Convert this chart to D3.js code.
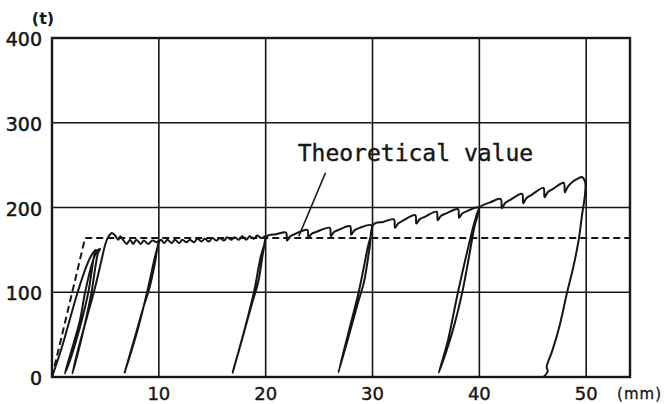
<!DOCTYPE html>
<html>
<head>
<meta charset="utf-8">
<script src="https://cdn.jsdelivr.net/npm/d3@7"></script>
<style>
  body { margin: 0; background: #fff; }
  svg { display: block; }
</style>
</head>
<body>
<svg id="chart"></svg>
<script>
// Axis ticks (mm / t).
var x_ticks = [10, 20, 30, 40, 50];
var y_ticks = [0, 100, 200, 300, 400];
var x_extent = [0, 54.1];
var y_extent = [0, 400];

// Theoretical value (dashed).
var theory_x = [0, 3.1, 54.1];
var theory_y = [0, 164, 164];

var measured = [
	// first loading and the two small early loops
	[0, 0], [0.8, 30], [1.6, 65], [2.4, 100], [3.2, 130], [3.8, 146], [4.1, 150],
	[4.0, 147], [3.4, 100], [2.6, 58], [1.8, 24], [1.2, 4],
	[1.8, 30], [2.6, 66], [3.1, 100], [3.8, 136], [4.3, 150], [4.5, 151],
	[4.3, 146], [3.7, 100], [3.0, 58], [2.4, 27], [1.9, 4],
	[2.5, 35], [3.3, 72], [4.0, 104], [4.6, 136], [5.0, 157], [5.3, 166], [5.6, 170],
	[5.9, 167], [6.2, 162], [6.4, 166], [6.7, 161], [7.0, 157], [7.3, 162], [7.6, 157],
	[7.9, 162], [8.3, 157], [8.6, 161], [9.0, 157], [9.4, 161], [9.8, 159], [10.0, 161],
	// loop at 10 mm
	[9.6, 140], [8.9, 100], [8.0, 55], [6.8, 5],
	[7.6, 40], [8.6, 84], [9.1, 104], [9.6, 132], [10.0, 159], [10.2, 162],
	[10.5, 158], [10.8, 162], [11.2, 158], [11.5, 162], [11.9, 158], [12.2, 162],
	[12.6, 159], [12.9, 162], [13.3, 159], [13.6, 163], [14.0, 160], [14.3, 163],
	[14.7, 160], [15.0, 164], [15.4, 161], [15.7, 164], [16.1, 161], [16.4, 165],
	[16.8, 162], [17.1, 165], [17.5, 162], [17.8, 166], [18.2, 162], [18.5, 166],
	[18.9, 163], [19.2, 167], [19.6, 164], [20.0, 166],
	// loop at 20 mm
	[19.5, 140], [18.9, 100], [18.0, 55], [16.9, 5],
	[17.8, 45], [18.7, 86], [19.3, 112], [19.8, 150], [20.1, 166],
	[21.0, 168.5], [21.9, 170.5], [22.0, 161], [22.3, 166], [22.8, 169],
	[23.9, 173.5], [24.0, 164], [24.3, 169], [24.8, 171.5],
	[26.0, 176], [26.1, 166], [26.4, 171], [26.9, 174],
	[27.9, 178], [28.0, 168], [28.3, 173], [28.8, 176], [29.9, 179],
	// loop at 30 mm
	[29.5, 150], [28.7, 100], [27.8, 55], [26.8, 5],
	[27.7, 45], [28.6, 86], [29.2, 112], [29.7, 150], [30.1, 180],
	[31.0, 183], [32.0, 186], [32.1, 176], [32.4, 181], [32.9, 185],
	[34.0, 191], [34.1, 181], [34.4, 186], [34.9, 189],
	[36.0, 195], [36.1, 185], [36.4, 190], [36.9, 193],
	[38.0, 198], [38.1, 188], [38.4, 193], [38.9, 196], [39.9, 200],
	// loop at 40 mm
	[39.5, 175], [38.4, 100], [37.4, 50], [36.2, 5],
	[37.0, 40], [38.0, 100], [38.9, 150], [39.6, 185], [40.1, 201],
	[41.0, 206], [42.0, 210], [42.1, 199], [42.4, 205], [42.9, 209],
	[44.0, 216], [44.1, 205], [44.4, 211], [44.9, 215],
	[46.0, 223], [46.1, 212], [46.4, 218], [46.9, 222],
	[47.9, 229], [48.0, 218], [48.3, 225], [48.8, 231],
	[49.2, 234], [49.6, 236], [49.9, 230],
	// final unloading
	[49.9, 217], [49.6, 190], [49.3, 162], [48.8, 130], [48.2, 99], [47.5, 60],
	[46.8, 30], [46.3, 12], [46.4, 7], [46.0, 0]
];

// Annotation label and its leader line.
var label_text = 'Theoretical value';
var label_pos = [23.0, 255];
var leader_x = [25.6, 23.1];
var leader_y = [241, 166];

var view_dimensions = { width: 664, height: 404 };
var margin = { left: 52, right: 34, top: 38, bottom: 27 };
var ink = '#161616';

var svg = d3.select('#chart')
	.attr('width', view_dimensions.width)
	.attr('height', view_dimensions.height)
	.attr('viewBox', '0 0 ' + view_dimensions.width + ' ' + view_dimensions.height);

var x = d3.scaleLinear()
	.domain(x_extent)
	.range([margin.left, view_dimensions.width - margin.right]);
var y = d3.scaleLinear()
	.domain(y_extent)
	.range([view_dimensions.height - margin.bottom, margin.top]);

// Grid lines.
svg.append('g').selectAll('line.vgrid')
	.data(x_ticks.filter(d => d < x_extent[1]))
	.enter().append('line')
	.attr('class', 'vgrid')
	.attr('x1', d => x(d)).attr('x2', d => x(d))
	.attr('y1', y(y_extent[0])).attr('y2', y(y_extent[1]))
	.style('stroke', ink).style('stroke-width', 1.6);
svg.append('g').selectAll('line.hgrid')
	.data(y_ticks.filter(d => d > y_extent[0] && d < y_extent[1]))
	.enter().append('line')
	.attr('class', 'hgrid')
	.attr('x1', x(x_extent[0])).attr('x2', x(x_extent[1]))
	.attr('y1', d => y(d)).attr('y2', d => y(d))
	.style('stroke', ink).style('stroke-width', 1.6);

// Frame.
svg.append('rect')
	.attr('x', x(x_extent[0]))
	.attr('y', y(y_extent[1]))
	.attr('width', x(x_extent[1]) - x(x_extent[0]))
	.attr('height', y(y_extent[0]) - y(y_extent[1]))
	.style('fill', 'none')
	.style('stroke', ink)
	.style('stroke-width', 2.4);

// Tick labels.
svg.append('g').selectAll('text.ylab')
	.data(y_ticks)
	.enter().append('text')
	.attr('class', 'ylab')
	.attr('x', x(x_extent[0]) - 10)
	.attr('y', d => y(d) + 8)
	.attr('text-anchor', 'end')
	.style('font-family', 'DejaVu Sans')
	.style('font-size', '19px')
	.style('fill', ink)
	.style('stroke', ink)
	.style('stroke-width', 0.5)
	.text(d => d);
svg.append('g').selectAll('text.xlab')
	.data(x_ticks)
	.enter().append('text')
	.attr('class', 'xlab')
	.attr('x', d => x(d))
	.attr('y', y(0) + 23)
	.attr('text-anchor', 'middle')
	.style('font-family', 'DejaVu Sans')
	.style('font-size', '18px')
	.style('fill', ink)
	.style('stroke', ink)
	.style('stroke-width', 0.4)
	.text(d => d);

// Units.
svg.append('text')
	.attr('x', x(x_extent[0]) - 9)
	.attr('y', y(y_extent[1]) - 14)
	.attr('text-anchor', 'middle')
	.style('font-family', 'DejaVu Sans')
	.style('font-size', '16px')
	.style('font-weight', 'bold')
	.style('fill', ink)
	.text('(t)');
svg.append('text')
	.attr('x', view_dimensions.width - 2)
	.attr('y', y(0) + 22)
	.attr('text-anchor', 'end')
	.style('font-family', 'DejaVu Sans')
	.style('font-size', '15px')
	.style('letter-spacing', '1px')
	.style('fill', ink)
	.style('stroke', ink)
	.style('stroke-width', 0.3)
	.text('(mm)');

// Theoretical line.
var theory = theory_x.map((d, i) => [d, theory_y[i]]);
svg.append('path')
	.datum(theory)
	.attr('d', d3.line().x(d => x(d[0])).y(d => y(d[1])))
	.style('fill', 'none')
	.style('stroke', ink)
	.style('stroke-width', 2)
	.style('stroke-dasharray', '7,4');

// Measured trace.
svg.append('path')
	.datum(measured)
	.attr('d', d3.line().x(d => x(d[0])).y(d => y(d[1])).curve(d3.curveCatmullRom.alpha(0.5)))
	.style('fill', 'none')
	.style('stroke', ink)
	.style('stroke-width', 2)
	.style('stroke-linejoin', 'round');

// Annotation.
var leader = leader_x.map((d, i) => [d, leader_y[i]]);
svg.append('path')
	.datum(leader)
	.attr('d', d3.line().x(d => x(d[0])).y(d => y(d[1])))
	.style('fill', 'none')
	.style('stroke', ink)
	.style('stroke-width', 1.6);
svg.append('text')
	.attr('x', x(label_pos[0]))
	.attr('y', y(label_pos[1]))
	.style('font-family', 'DejaVu Sans Mono')
	.style('font-size', '23px')
	.style('fill', ink)
	.style('stroke', ink)
	.style('stroke-width', 0.4)
	.text(label_text);
</script>
</body>
</html>
